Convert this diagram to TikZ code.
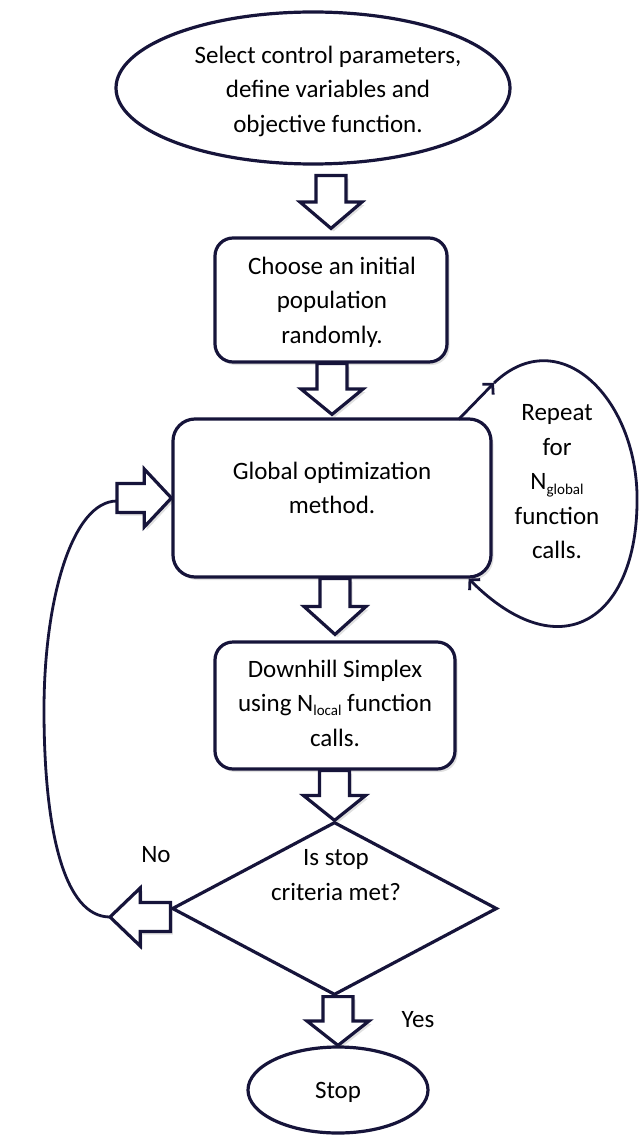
\documentclass[tikz,border=0pt]{standalone}
\usepackage{fontspec}
\setmainfont{Carlito}
\usetikzlibrary{shapes.geometric,calc,arrows.meta,shadows}
\definecolor{ink}{RGB}{22,20,58}
% small lowered index text, as in N_global
\newcommand\lowidx[1]{\raisebox{-0.35ex}{\fontsize{15}{15}\selectfont #1}}
% hollow block arrow pointing down, from #1 (tail) to #2 (tip)
\newcommand\downblock[2]{%
  \draw[blk] let \p1=(#1), \p2=(#2), \n1={(\y1-\y2)/2} in
    ({\x2-15pt},\y1) -- ({\x2+15pt},\y1) -- ({\x2+15pt},{\y2+\n1})
    -- ({\x2+31pt},{\y2+\n1}) -- (\x2,\y2) -- ({\x2-31pt},{\y2+\n1})
    -- ({\x2-15pt},{\y2+\n1}) -- cycle;}
% hollow block arrow pointing sideways, from #1 (tail) to #2 (tip)
\newcommand\hblock[2]{%
  \draw[blk] let \p1=(#1), \p2=(#2), \n1={(\x1-\x2)/2} in
    (\x1,{\y2+14.5pt}) -- (\x1,{\y2-14.5pt}) -- ({\x2+\n1},{\y2-14.5pt})
    -- ({\x2+\n1},{\y2-29pt}) -- (\x2,\y2) -- ({\x2+\n1},{\y2+29pt})
    -- ({\x2+\n1},{\y2+14.5pt}) -- cycle;}
\begin{document}
\begin{tikzpicture}[x=1pt,y=-1pt,
  every node/.style={font=\fontsize{25}{34.5}\selectfont, align=center, text=black},
  outline/.style={draw=ink, line width=3.2pt, fill=white},
  soft/.style={drop shadow={shadow xshift=2.5pt, shadow yshift=-3pt, opacity=0.12, fill=black}},
  roundbox/.style={outline, soft, rounded corners=18pt, inner sep=0pt},
  oval/.style={outline, ellipse, inner sep=0pt},
  blk/.style={draw=ink, line width=3.2pt, fill=white, line join=miter, soft},
  thin/.style={draw=ink, line width=2.8pt},
  tip/.style={-{Straight Barb[length=7pt,width=15pt]}}
]
\useasboundingbox (0,0) rectangle (640,1142);

% boxes
\node[oval, minimum width=394pt, minimum height=152pt] (top) at (313,88) {};
\node (topt) at (328,91)
  {Select control parameters,\\ define variables and\\ objective function.};
\node[roundbox, minimum width=232pt, minimum height=124pt] (b1) at (331,300) {};
\node (b1t) at (332,302) {Choose an initial\\ population\\ randomly.};
\node[roundbox, rounded corners=22pt, minimum width=318pt, minimum height=158pt] (b2) at (332,498) {};
\node (b2t) at (332,488) {Global optimization\\ method.};
\node[roundbox, minimum width=240pt, minimum height=127pt] (b3) at (335,705.5) {};
\node (b3t) at (335,703) {Downhill Simplex\\ using N\lowidx{local} function\\ calls.};
\node[outline, diamond, aspect=1.88, minimum width=325pt, minimum height=173pt, inner sep=0pt] (dia) at (334.5,908.5) {};
\node (diat) at (336,875) {Is stop\\ criteria met?};
\node[oval, minimum width=180pt, minimum height=86pt] (stop) at (338,1090) {};
\node (stopt) at (338,1092) {Stop};

% labels
\node (loopt) at (557,482) {Repeat\\ for\\ N\lowidx{global}\\ function\\ calls.};
\node (no) at (156,855) {No};
\node (yes) at (418,1020) {Yes};

% main flow
\downblock{$(top.south)+(0,10)$}{$(b1.north)+(0,-8)$}
\downblock{b1.south}{$(b2.north)+(0,-3)$}
\downblock{b2.south}{$(b3.north)+(0,-6)$}
\downblock{b3.south}{dia.north}
\downblock{dia.south}{stop.north}

% "No" branch back to the global method
\coordinate (noTip) at (110,917);
\coordinate (backTail) at (117,501);
\hblock{$(dia.west)+(0,8)$}{noTip}
\hblock{backTail}{b2.west}
\draw[thin] (noTip) .. controls (64,917) and (44,830) .. (44,710)
  .. controls (44,600) and (72,501) .. (backTail);

% repeat loop of the global method
\coordinate (rl) at (494,383);
\draw[thin, tip] ($(b2.north east)+(-34,2)$) -- (rl);
\draw[thin, tip] (rl) .. controls (560,320) and (640,400) .. (637,505)
  .. controls (635,620) and (560,670) .. ($(b2.south east)+(-24,0)$);
\end{tikzpicture}
\end{document}
